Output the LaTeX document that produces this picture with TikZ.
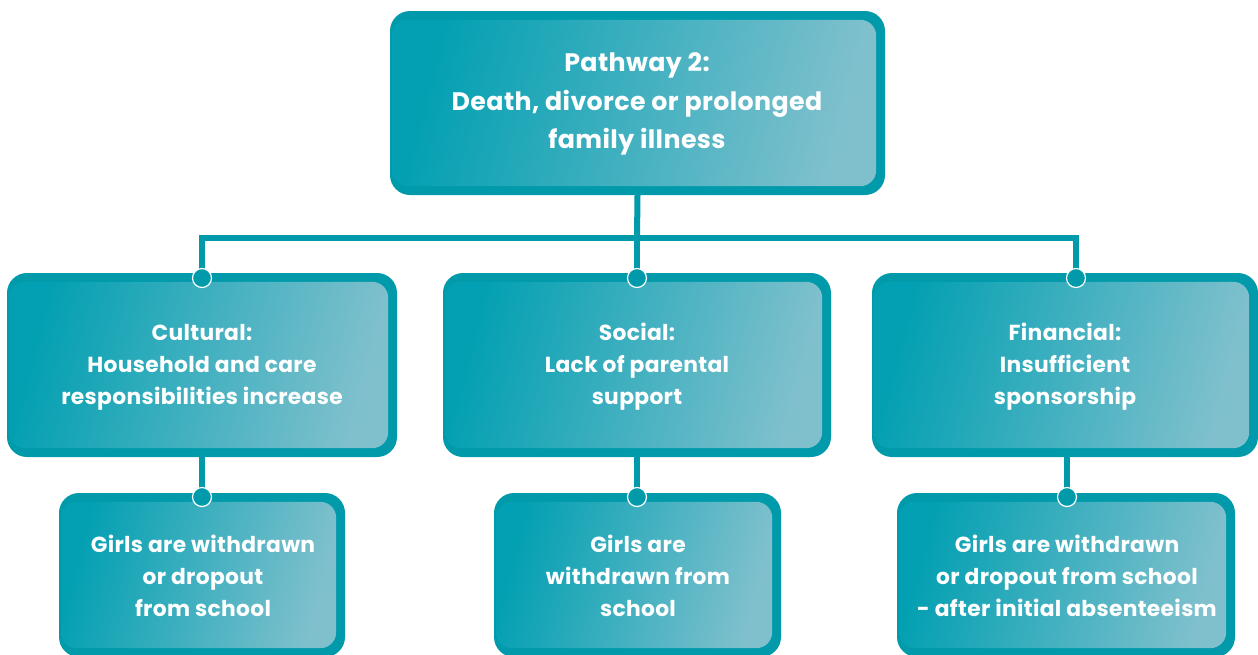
\documentclass[tikz,border=0pt]{standalone}
\usepackage{fontspec}
\setmainfont{Poppins}[LetterSpace=1.5]
\definecolor{tealout}{RGB}{0,154,171}
\definecolor{inL}{RGB}{2,160,178}
\definecolor{inR}{RGB}{128,192,205}
\begin{document}
\begin{tikzpicture}[x=1pt,y=-1pt,
  outerbox/.style={fill=tealout,rounded corners=20pt,inner sep=0pt,draw=none},
  shade/.style={left color=inL,right color=inR,shading angle=75,rounded corners=16pt,draw=none},
  bigtxt/.style={text=white,align=center,font=\bfseries\fontsize{25.3}{38.5}\selectfont},
  txt/.style={text=white,align=center,font=\bfseries\fontsize{21.8}{32}\selectfont},
  conn/.style={draw=tealout,line width=6pt},
  dot/.style={circle,fill=tealout,draw=white,line width=1.2pt,minimum size=19pt,inner sep=0pt}]
\useasboundingbox (0,0) rectangle (1258,654);
\begin{scope}
\clip (0,0) rectangle (1258,654);
% boxes
\node[outerbox,minimum width=495pt,minimum height=184pt] (top) at (637.5,103) {};
\node[outerbox,minimum width=390pt,minimum height=184pt] (cul) at (202,365) {};
\node[outerbox,minimum width=388pt,minimum height=184pt] (soc) at (637,365) {};
\node[outerbox,minimum width=386pt,minimum height=184pt] (fin) at (1065,365) {};
\node[outerbox,minimum width=286pt,minimum height=164pt] (b1) at (202,575) {};
\node[outerbox,minimum width=287pt,minimum height=164pt] (b2) at (637.5,575) {};
\node[outerbox,minimum width=338pt,minimum height=164pt] (b3) at (1066,575) {};
\foreach \n in {top,cul,soc,fin,b1,b2,b3}{
  \path[shade] ([xshift=2pt,yshift=-9pt]\n.north west) rectangle ([xshift=-9pt,yshift=9pt]\n.south east);
}
\end{scope}
% texts
\node[bigtxt] (topT) at (637,104) {Pathway 2:\\Death, divorce or prolonged\\family illness};
\node[txt] (culT) at (202,367) {Cultural:\\Household and care\\responsibilities increase};
\node[txt] (socT) at (637,367) {Social:\\Lack of parental\\support};
\node[txt] (finT) at (1065,367) {Financial:\\Insufficient\\sponsorship};
\node[txt] (b1T) at (203,575.5) {Girls are withdrawn\\or dropout\\from school};
\node[txt] (b2T) at (638,575.5) {Girls are\\withdrawn from\\school};
\node[txt] (b3T) at (1067,575.5) {Girls are withdrawn\\or dropout from school\\- after initial absenteeism};
% connectors
\coordinate (j) at (637,238);
\coordinate (c1p) at (202,278);
\coordinate (c2p) at (637,278);
\coordinate (c3p) at (1076,278);
\draw[conn] (top.south) -- (j);
\draw[conn] (c1p) |- (j) -| (c3p);
\draw[conn] (j) -- (c2p);
\draw[conn] (cul.south) -- (202,497) coordinate (d1p);
\draw[conn] (soc.south) -- (637,497) coordinate (d2p);
\draw[conn] (fin.south -| 1067,0) -- (1067,497) coordinate (d3p);
\node[dot] (c1) at (c1p) {};
\node[dot] (c2) at (c2p) {};
\node[dot] (c3) at (c3p) {};
\node[dot] (d1) at (d1p) {};
\node[dot] (d2) at (d2p) {};
\node[dot] (d3) at (d3p) {};
\end{tikzpicture}
\end{document}
